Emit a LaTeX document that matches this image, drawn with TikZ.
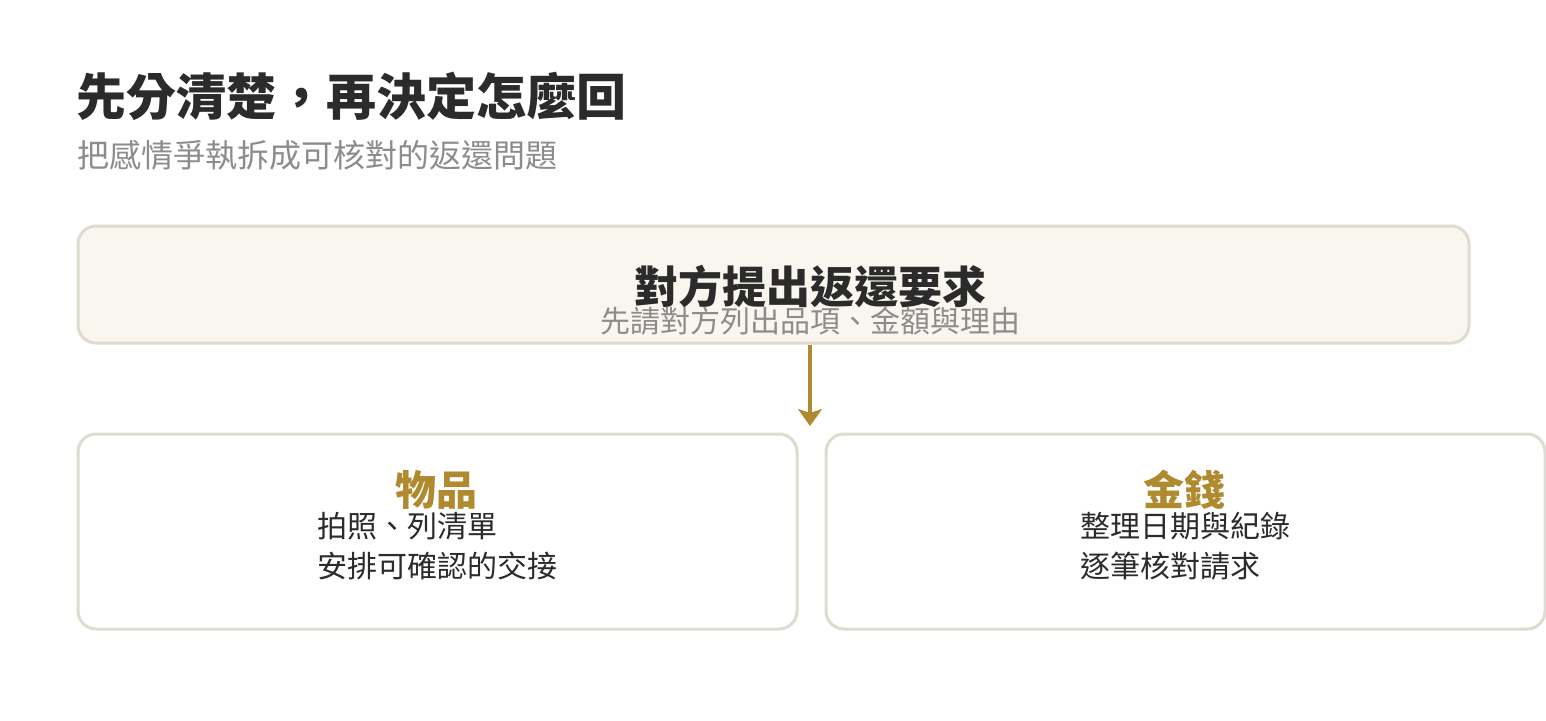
\documentclass[tikz,border=0pt]{standalone}
\usepackage{fontspec}
\setmainfont{Noto Sans CJK TC}
\usetikzlibrary{arrows.meta}
\definecolor{bordc}{HTML}{DFDBD0}
\definecolor{fillc}{HTML}{F9F6EF}
\definecolor{goldc}{HTML}{B08A2E}
\definecolor{textc}{HTML}{2B2B2B}
\definecolor{grayc}{HTML}{8C8C8C}
\tikzset{
  card/.style={draw=bordc, line width=3pt, rounded corners=18pt, inner sep=0pt},
  txt/.style={inner sep=0pt, text=textc},
  flowarrow/.style={draw=goldc, line width=4pt, -{Stealth[length=17pt,width=24pt,inset=4pt]}}
}
\begin{document}
\begin{tikzpicture}[x=1pt,y=-1pt]
\useasboundingbox[fill=white] (0,0) rectangle (1546,720);
% title
\node[txt, anchor=base west, font=\fontsize{50}{56}\selectfont\bfseries] (title) at (76,115) {先分清楚，再決定怎麼回};
\node[txt, anchor=base west, text=grayc, font=\fontsize{32}{38}\selectfont] (subtitle) at (77,167) {把感情爭執拆成可核對的返還問題};
% top card
\node[card, fill=fillc, minimum width=1391pt, minimum height=117pt] (top) at (773.5,284.5) {};
\node[txt, anchor=base, font=\fontsize{44}{50}\selectfont\bfseries] (toptitle) at (810,303.5) {對方提出返還要求};
\node[txt, anchor=base, text=grayc, font=\fontsize{30}{36}\selectfont] (topsub) at (810,332.5) {先請對方列出品項、金額與理由};
% bottom cards
\node[card, fill=white, minimum width=719pt, minimum height=195pt] (left) at (437.5,531.5) {};
\node[card, fill=white, minimum width=719pt, minimum height=195pt] (right) at (1185.5,531.5) {};
\node[txt, anchor=base, text=goldc, font=\fontsize{41}{47}\selectfont\bfseries] (lefthead) at (436,505.5) {物品};
\node[txt, anchor=base west, font=\fontsize{30}{36}\selectfont] (leftl1) at (317,537.5) {拍照、列清單};
\node[txt, anchor=base west, font=\fontsize{30}{36}\selectfont] (leftl2) at (317,577) {安排可確認的交接};
\node[txt, anchor=base, text=goldc, font=\fontsize{41}{47}\selectfont\bfseries] (righthead) at (1184.5,505.5) {金錢};
\node[txt, anchor=base west, font=\fontsize{30}{36}\selectfont] (rightl1) at (1080,537.5) {整理日期與紀錄};
\node[txt, anchor=base west, font=\fontsize{30}{36}\selectfont] (rightl2) at (1080,577) {逐筆核對請求};
% arrow
\coordinate (arrend) at (810,426);
\draw[flowarrow] (top.south -| arrend) -- (arrend);
\end{tikzpicture}
\end{document}
